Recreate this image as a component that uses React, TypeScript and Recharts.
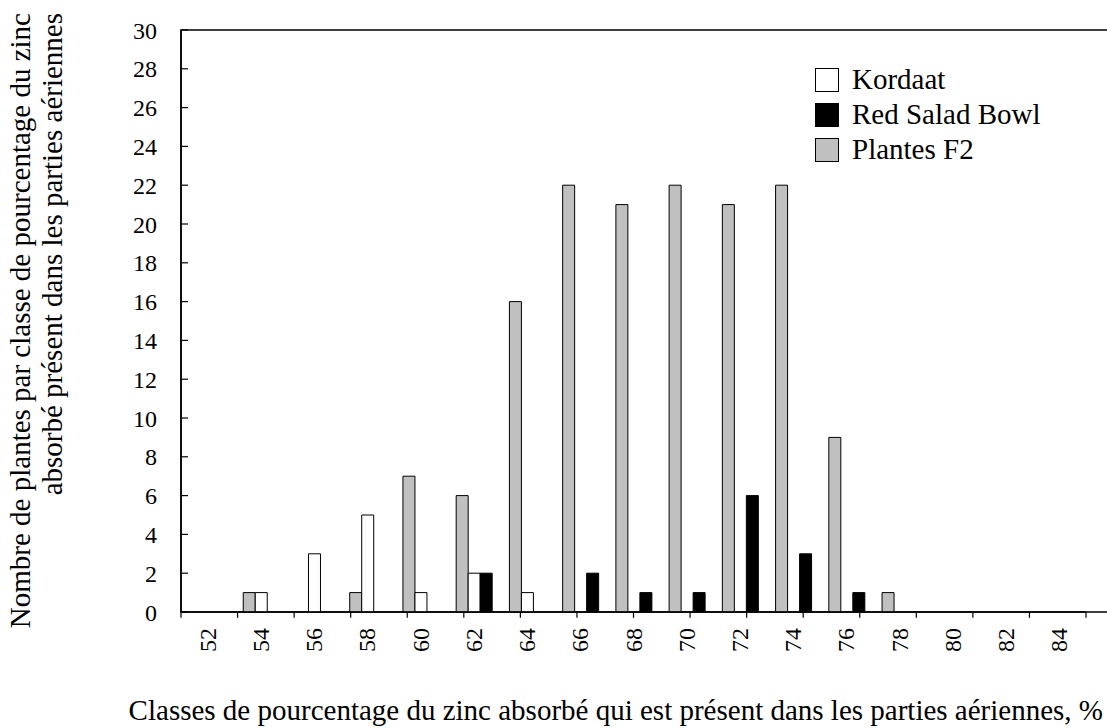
import {
  BarChart,
  Bar,
  XAxis,
  YAxis,
  Legend,
  Label,
  ReferenceLine,
  ReferenceArea,
} from "recharts";

const SERIF = "'Liberation Serif', 'Times New Roman', serif";

const CLASSES = ["52", "54", "56", "58", "60", "62", "64", "66", "68", "70", "72", "74", "76", "78", "80", "82", "84"];
const KORDAAT = [0, 1, 3, 5, 1, 2, 1, 0, 0, 0, 0, 0, 0, 0, 0, 0, 0];
const RED_SALAD_BOWL = [0, 0, 0, 0, 0, 2, 0, 2, 1, 1, 6, 3, 1, 0, 0, 0, 0];
const PLANTES_F2 = [0, 1, 0, 1, 7, 6, 16, 22, 21, 22, 21, 22, 9, 1, 0, 0, 0];
const Y_TICKS = [0, 2, 4, 6, 8, 10, 12, 14, 16, 18, 20, 22, 24, 26, 28, 30];
// class boundaries, for the tick marks between the labels
const EDGES = CLASSES.map((_, i) => i).concat(CLASSES.length);

// drawing order inside each class
const SERIES = [
  { key: "f2", name: "Plantes F2", values: PLANTES_F2, fill: "#c0c0c0" },
  { key: "kordaat", name: "Kordaat", values: KORDAAT, fill: "#ffffff" },
  { key: "rsb", name: "Red Salad Bowl", values: RED_SALAD_BOWL, fill: "#000000" },
];
const LEGEND_ORDER = ["Kordaat", "Red Salad Bowl", "Plantes F2"];

const data = CLASSES.map((cls, i) => {
  const row: Record<string, string | number> = { cls };
  for (const s of SERIES) row[s.key] = s.values[i];
  return row;
});

function ClassTick({ x, y, payload }: any) {
  return (
    <text
      x={x}
      y={y}
      transform={`rotate(-90, ${x}, ${y})`}
      textAnchor="end"
      dominantBaseline="central"
      fontSize={24}
      fontFamily={SERIF}
      fill="#000"
    >
      {payload.value}
    </text>
  );
}

function YTitle() {
  const lines = [
    { x: 30, text: "Nombre de plantes par classe de pourcentage du zinc" },
    { x: 62, text: "absorbé présent dans les parties aériennes" },
  ];
  return (
    <g>
      {lines.map((l) => (
        <text
          key={l.x}
          x={l.x}
          y={13}
          transform={`rotate(-90, ${l.x}, 13)`}
          textAnchor="end"
          fontSize={29}
          fontFamily={SERIF}
          fill="#000"
        >
          {l.text}
        </text>
      ))}
    </g>
  );
}

function XTitle() {
  return (
    <text x={1103} y={720} textAnchor="end" fontSize={29} fontFamily={SERIF} fill="#000">
      Classes de pourcentage du zinc absorbé qui est présent dans les parties aériennes, %
    </text>
  );
}

function renderLegend() {
  return (
    <div style={{ fontFamily: SERIF, fontSize: 29, color: "#000", lineHeight: "35px" }}>
      {LEGEND_ORDER.map((name) => {
        const s = SERIES.find((x) => x.name === name)!;
        return (
          <div key={name} style={{ display: "flex", alignItems: "center", height: 35 }}>
            <span
              style={{
                display: "inline-block",
                width: 22,
                height: 22,
                background: s.fill,
                border: "1.5px solid #000",
                marginRight: 13,
              }}
            />
            <span>{name}</span>
          </div>
        );
      })}
    </div>
  );
}

export default function App() {
  return (
    <div style={{ position: "absolute", left: 0, top: 0, width: 1107, height: 728, background: "#fff" }}>
      <BarChart
        width={1107}
        height={728}
        data={data}
        margin={{ top: 30, right: 21, bottom: 56, left: 121 }}
        barGap={0}
        style={{ fontFamily: SERIF }}
      >
        <XAxis
          dataKey="cls"
          interval={0}
          height={60}
          tickLine={false}
          tickSize={0}
          tickMargin={16}
          tick={<ClassTick />}
          axisLine={{ stroke: "#000", strokeWidth: 1.5 }}
        >
          <Label content={<XTitle />} />
        </XAxis>
        <XAxis xAxisId="edges" type="number" domain={[0, CLASSES.length]} allowDataOverflow hide />
        <YAxis
          domain={[0, 30]}
          ticks={Y_TICKS}
          interval={0}
          width={60}
          tickSize={-7}
          tickMargin={31}
          tick={{ fontSize: 24, fill: "#000", fontFamily: SERIF }}
          tickLine={{ stroke: "#000", strokeWidth: 1.2 }}
          axisLine={{ stroke: "#000", strokeWidth: 1.5 }}
        >
          <Label content={<YTitle />} />
        </YAxis>
        <ReferenceArea
          xAxisId="edges"
          x1={0}
          x2={CLASSES.length}
          y1={0}
          y2={30}
          fill="none"
          stroke="#000"
          strokeWidth={1.5}
          ifOverflow="visible"
        />
        {EDGES.map((k) => (
          <ReferenceLine
            key={k}
            xAxisId="edges"
            segment={[
              { x: k, y: 0 },
              { x: k, y: -0.3 },
            ]}
            stroke="#000"
            strokeWidth={1.2}
            ifOverflow="visible"
          />
        ))}
        <Legend
          content={renderLegend}
          layout="horizontal"
          verticalAlign="middle"
          align="center"
          wrapperStyle={{ left: 815, top: 62, width: 280 }}
        />
        {SERIES.map((s) => (
          <Bar
            key={s.key}
            dataKey={s.key}
            name={s.name}
            fill={s.fill}
            stroke="#000"
            strokeWidth={1}
            barSize={12}
            isAnimationActive={false}
          />
        ))}
      </BarChart>
    </div>
  );
}
